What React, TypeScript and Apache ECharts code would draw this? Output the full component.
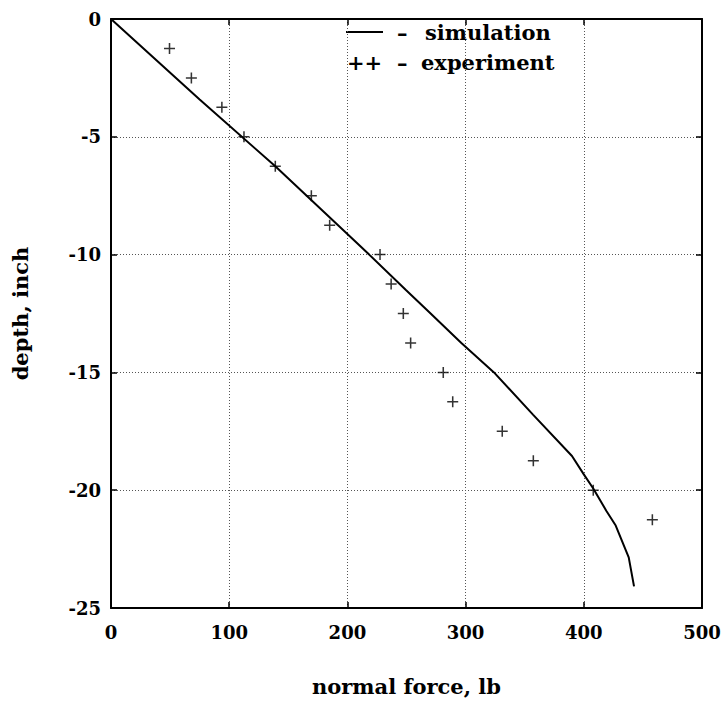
import React, { useEffect, useRef } from "react";
import * as echarts from "echarts";

// Simulation curve: normal force (lb) vs depth (inch)
const simForce = [0, 75, 139, 202, 218.4, 249.5, 270.4, 296.4, 324, 357, 390, 400, 408, 419, 427, 438, 442.5];
const simDepth = [0, -3.42, -6.25, -9.22, -10, -11.5, -12.5, -13.75, -15, -16.79, -18.55, -19.33, -19.93, -20.87, -21.5, -22.85, -24.08];

// Experiment points
const expForce = [49.5, 68, 93.8, 112.5, 139, 169.5, 185, 227.6, 237, 247.3, 253.5, 281.1, 289.1, 331, 357.3, 408, 458];
const expDepth = [-1.25, -2.5, -3.75, -5, -6.25, -7.5, -8.75, -10, -11.25, -12.5, -13.75, -15, -16.25, -17.5, -18.75, -20, -21.25];

const xTicks = { min: 0, max: 500, interval: 100 };
const yTicks = { min: -25, max: 0, interval: 5 };

const FONT = "DejaVu Serif";

export default function App() {
  const ref = useRef<HTMLDivElement>(null);
  useEffect(() => {
    if (!ref.current) return;
    const chart = echarts.init(ref.current, undefined, { renderer: "svg" });
    const labelStyle = { fontFamily: FONT, fontWeight: "bold" as const, fontSize: 18, color: "#000" };
    const plus = "path://M4.3,0H5.7V4.3H10V5.7H5.7V10H4.3V5.7H0V4.3H4.3Z";
    const axisLine = { show: true, onZero: false, lineStyle: { color: "#000", width: 2 } };
    const axisTick = { show: true, inside: true, length: 6, lineStyle: { color: "#000", width: 1.5 } };
    const splitLine = { show: true, lineStyle: { color: "#555", type: [1, 2], width: 1 } };
    chart.setOption({
      animation: false,
      backgroundColor: "#fff",
      grid: { left: 111, top: 19, width: 591, height: 592 },
      xAxis: [
        {
          type: "value",
          position: "bottom",
          ...xTicks,
          name: "normal force, lb",
          nameLocation: "middle",
          nameGap: 68,
          nameTextStyle: { fontFamily: FONT, fontWeight: "bold", fontSize: 21, color: "#000" },
          axisLine,
          axisTick,
          axisLabel: { ...labelStyle, margin: 15 },
          splitLine,
        },
        {
          type: "value",
          position: "top",
          ...xTicks,
          axisLine,
          axisTick,
          axisLabel: { show: false },
          splitLine: { show: false },
        },
      ],
      yAxis: [
        {
          type: "value",
          position: "left",
          ...yTicks,
          name: "depth, inch",
          nameLocation: "middle",
          nameGap: 80,
          nameRotate: 90,
          nameTextStyle: { fontFamily: FONT, fontWeight: "bold", fontSize: 21, color: "#000" },
          axisLine,
          axisTick,
          axisLabel: { ...labelStyle, margin: 10 },
          splitLine,
        },
        {
          type: "value",
          position: "right",
          ...yTicks,
          axisLine,
          axisTick,
          axisLabel: { show: false },
          splitLine: { show: false },
        },
      ],
      series: [
        {
          name: "simulation",
          type: "line",
          xAxisIndex: 0,
          yAxisIndex: 0,
          data: simForce.map((f, i) => [f, simDepth[i]]),
          showSymbol: false,
          symbol: "none",
          lineStyle: { color: "#000", width: 2 },
        },
        {
          name: "experiment",
          type: "scatter",
          xAxisIndex: 0,
          yAxisIndex: 0,
          data: expForce.map((f, i) => [f, expDepth[i]]),
          symbol: plus,
          symbolSize: 11,
          itemStyle: { color: "#000" },
        },
      ],
      graphic: [
        { type: "line", shape: { x1: 346, y1: 32, x2: 383, y2: 32 }, style: { stroke: "#000", lineWidth: 2 } },
        { type: "text", x: 397, y: 32, style: { text: "–", fontFamily: FONT, fontWeight: "bold", fontSize: 21, fill: "#000", verticalAlign: "middle" } },
        { type: "text", x: 425, y: 32, style: { text: "simulation", fontFamily: FONT, fontWeight: "bold", fontSize: 21, fill: "#000", verticalAlign: "middle" } },
        { type: "text", x: 347, y: 62, style: { text: "++", fontFamily: FONT, fontWeight: "bold", fontSize: 21, fill: "#000", verticalAlign: "middle" } },
        { type: "text", x: 397, y: 62, style: { text: "–", fontFamily: FONT, fontWeight: "bold", fontSize: 21, fill: "#000", verticalAlign: "middle" } },
        { type: "text", x: 421, y: 62, style: { text: "experiment", fontFamily: FONT, fontWeight: "bold", fontSize: 21, fill: "#000", verticalAlign: "middle" } },
      ],
    });
    return () => chart.dispose();
  }, []);
  return <div ref={ref} style={{ width: 725, height: 702, position: "absolute", left: 0, top: 0 }} />;
}
